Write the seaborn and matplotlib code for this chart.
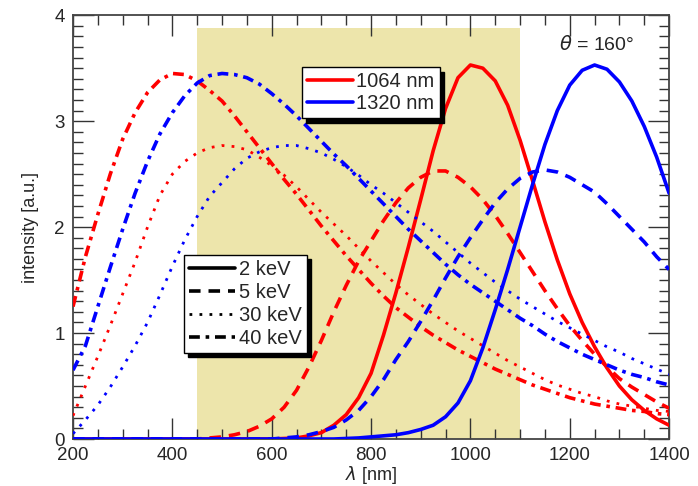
import numpy as np
import pandas as pd
import matplotlib
matplotlib.use("Agg")
import matplotlib.pyplot as plt
from matplotlib.lines import Line2D
import seaborn as sns

# longitud de onda [nm], paso de 25 nm
lam = list(range(200, 1401, 25))

# laser 1064 nm
rojo_2kev = [0.0] * 16 + [
    0.0, 0.005, 0.01, 0.03, 0.06, 0.13, 0.23, 0.39, 0.62, 0.98, 1.38, 1.81,
    2.26, 2.72, 3.12, 3.41, 3.53, 3.50, 3.38, 3.15, 2.82, 2.44, 2.05, 1.69,
    1.37, 1.10, 0.87, 0.67, 0.50, 0.37, 0.27, 0.19, 0.13]
rojo_5kev = [0.0] * 11 + [
    0.01, 0.02, 0.04, 0.07, 0.12, 0.19, 0.30, 0.46, 0.68, 0.93, 1.20, 1.45,
    1.68, 1.87, 2.06, 2.23, 2.37, 2.47, 2.53, 2.53, 2.47, 2.38, 2.26, 2.11,
    1.94, 1.76, 1.58, 1.40, 1.23, 1.07, 0.93, 0.80, 0.68, 0.57, 0.49, 0.42,
    0.35, 0.29]
rojo_30kev = [0.22, 0.50, 0.78, 1.07, 1.37, 1.67, 2.00, 2.30, 2.50, 2.62, 2.70,
              2.75, 2.77, 2.76, 2.73, 2.66, 2.58, 2.49, 2.38, 2.26, 2.14, 2.03,
              1.92, 1.80, 1.68, 1.57, 1.46, 1.36, 1.27, 1.18, 1.10, 1.02, 0.95,
              0.88, 0.81, 0.74, 0.68, 0.62, 0.56, 0.51, 0.47, 0.43, 0.40, 0.36,
              0.33, 0.31, 0.29, 0.27, 0.26]
rojo_40kev = [1.25, 1.72, 2.12, 2.50, 2.83, 3.08, 3.27, 3.39, 3.45, 3.44, 3.38,
              3.29, 3.19, 3.05, 2.90, 2.75, 2.60, 2.45, 2.31, 2.16, 2.01, 1.87,
              1.73, 1.60, 1.47, 1.35, 1.24, 1.15, 1.06, 0.98, 0.91, 0.84, 0.78,
              0.72, 0.66, 0.61, 0.56, 0.51, 0.47, 0.43, 0.39, 0.36, 0.33, 0.31,
              0.29, 0.27, 0.26, 0.24, 0.23]

# laser 1320 nm
azul_2kev = [0.0] * 22 + [
    0.005, 0.01, 0.02, 0.03, 0.04, 0.06, 0.09, 0.13, 0.21, 0.34, 0.55, 0.86,
    1.22, 1.60, 2.00, 2.40, 2.78, 3.10, 3.34, 3.48, 3.53, 3.49, 3.37, 3.19,
    2.95, 2.66, 2.32]
azul_5kev = [0.0] * 17 + [
    0.01, 0.02, 0.04, 0.07, 0.11, 0.18, 0.27, 0.40, 0.56, 0.75, 0.92, 1.11,
    1.31, 1.52, 1.72, 1.90, 2.07, 2.23, 2.36, 2.46, 2.52, 2.54, 2.52, 2.47,
    2.40, 2.33, 2.22, 2.10, 1.98, 1.86, 1.72, 1.60]
azul_30kev = [0.05, 0.18, 0.32, 0.49, 0.68, 0.88, 1.10, 1.36, 1.63, 1.88, 2.10,
              2.29, 2.42, 2.55, 2.65, 2.71, 2.75, 2.77, 2.77, 2.74, 2.70, 2.64,
              2.57, 2.49, 2.40, 2.32, 2.23, 2.14, 2.05, 1.96, 1.86, 1.76, 1.66,
              1.57, 1.48, 1.40, 1.32, 1.25, 1.18, 1.11, 1.05, 0.99, 0.93, 0.87,
              0.82, 0.76, 0.71, 0.66, 0.61]
azul_40kev = [0.65, 0.88, 1.25, 1.62, 1.98, 2.32, 2.62, 2.88, 3.08, 3.24, 3.36,
              3.43, 3.45, 3.44, 3.41, 3.35, 3.26, 3.16, 3.05, 2.93, 2.81, 2.69,
              2.58, 2.46, 2.34, 2.22, 2.10, 1.98, 1.87, 1.76, 1.65, 1.55, 1.46,
              1.38, 1.30, 1.22, 1.14, 1.07, 0.99, 0.92, 0.86, 0.80, 0.75, 0.70,
              0.65, 0.61, 0.58, 0.54, 0.51]

region_sombreada = (450, 1100, 3.88)

sns.set_style("ticks")
plt.rcParams["font.family"] = ["Liberation Sans", "DejaVu Sans"]
plt.rcParams["mathtext.fontset"] = "dejavusans"

estilos = {
    "2 keV": dict(linestyle="-", linewidth=2.6),
    "5 keV": dict(linestyle=(0, (3.2, 2.2)), linewidth=2.6),
    "30 keV": dict(linestyle=(0, (1, 2.6)), linewidth=2.0),
    "40 keV": dict(linestyle=(0, (3, 1.6, 1, 1.6)), linewidth=2.6),
}

curvas = [
    ("2 keV", rojo_2kev, "#ff0000"),
    ("5 keV", rojo_5kev, "#ff0000"),
    ("30 keV", rojo_30kev, "#ff0000"),
    ("40 keV", rojo_40kev, "#ff0000"),
    ("2 keV", azul_2kev, "#0000ff"),
    ("5 keV", azul_5kev, "#0000ff"),
    ("30 keV", azul_30kev, "#0000ff"),
    ("40 keV", azul_40kev, "#0000ff"),
]

fig = plt.figure(figsize=(6.98, 4.86), dpi=100)
ax = fig.add_axes([0.1046, 0.0967, 0.854, 0.872])

x0, x1, ytop = region_sombreada
ax.axvspan(x0, x1, ymin=0, ymax=ytop / 4.0, color="#ede5ab", lw=0, zorder=0)

for energia, valores, color in curvas:
    df = pd.DataFrame({"lam": lam, "I": valores})
    sns.lineplot(data=df, x="lam", y="I", color=color, ax=ax,
                 zorder=3, **estilos[energia])

ax.set_xlim(200, 1400)
ax.set_ylim(0, 4)
ax.set_xticks(np.arange(200, 1401, 200))
ax.set_xticks(np.arange(200, 1401, 50), minor=True)
ax.set_yticks(np.arange(0, 5, 1))
ax.set_yticks(np.arange(0, 4.01, 0.1), minor=True)
ax.tick_params(which="both", direction="in", top=True, right=True,
               labelsize=13.5, width=1.0, color="#333333")
ax.tick_params(which="major", length=15, pad=6)
ax.tick_params(which="minor", length=7)
for s in ax.spines.values():
    s.set_linewidth(1.3)
    s.set_color("#444444")

ax.set_xlabel(r"$\lambda$ [nm]", fontsize=13, labelpad=0)
ax.set_ylabel("intensity [a.u.]", fontsize=13, labelpad=11)

ax.text(1255, 3.72, r"$\theta$ = 160°", fontsize=14, ha="center", va="center")

sombra = {"color": "black", "alpha": 1.0, "ox": 3, "oy": -3}

h_laser = [Line2D([], [], color="#ff0000", lw=2.6),
           Line2D([], [], color="#0000ff", lw=2.6)]
leg1 = ax.legend(h_laser, ["1064 nm", "1320 nm"], loc="upper left",
                 bbox_to_anchor=(0.384, 0.877), borderaxespad=0,
                 fontsize=14.5, fancybox=False, framealpha=1, edgecolor="black",
                 handlelength=2.3, handletextpad=0.15, labelspacing=0.15,
                 borderpad=0.25, shadow=sombra)
leg1.get_frame().set_linewidth(1.0)
ax.add_artist(leg1)

h_energia = [Line2D([], [], color="black", **estilos[e])
             for e in ["2 keV", "5 keV", "30 keV", "40 keV"]]
leg2 = ax.legend(h_energia, ["2 keV", "5 keV", "30 keV", "40 keV"],
                 loc="upper left", bbox_to_anchor=(0.186, 0.434),
                 borderaxespad=0, fontsize=14.5, fancybox=False, framealpha=1,
                 edgecolor="black", handlelength=2.3, handletextpad=0.2,
                 labelspacing=0.2, borderpad=0.25, shadow=sombra)
leg2.get_frame().set_linewidth(1.0)

fig.savefig("out.png", dpi=100)
